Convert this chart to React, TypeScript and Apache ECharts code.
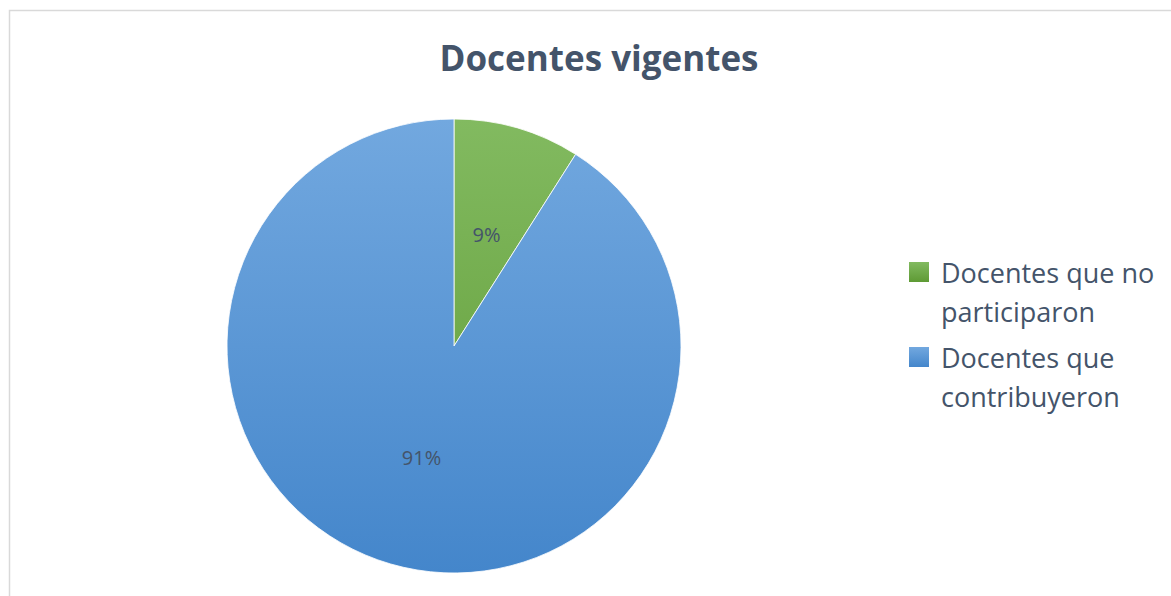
import React, { useEffect, useRef } from "react";
import * as echarts from "echarts";

const title = "Docentes vigentes";
const categories = ["Docentes que no participaron", "Docentes que contribuyeron"];
const values = [9, 91];
const topColors = ["#82ba60", "#72a8df"];
const bottomColors = ["#5e9a34", "#4486cb"];

const FONT = "'Open Sans', 'Noto Sans', sans-serif";
const TEXT = "#44546a";

export default function App() {
  const ref = useRef<HTMLDivElement>(null);
  useEffect(() => {
    document.body.style.margin = "0";
    const chart = echarts.init(ref.current!, null, { renderer: "svg" });
    const cx = 454, cy = 346, r = 227;
    const legendGraphics: any[] = [];
    categories.forEach((name, i) => {
      const y0 = 262 + i * 85;
      legendGraphics.push({
        type: "rect",
        shape: { x: 909, y: y0, width: 20, height: 20 },
        style: {
          fill: new echarts.graphic.LinearGradient(0, 0, 0, 1, [
            { offset: 0, color: topColors[i] },
            { offset: 1, color: bottomColors[i] },
          ]),
        },
      });
      legendGraphics.push({
        type: "text",
        x: 941,
        y: y0 - 9,
        style: {
          text: name,
          width: 228,
          overflow: "break",
          font: `27px ${FONT}`,
          fill: TEXT,
          lineHeight: 39,
        },
      });
    });
    chart.setOption({
      animation: false,
      backgroundColor: "#ffffff",
      title: {
        text: title,
        left: 594,
        top: 35,
        textAlign: "center",
        textStyle: { fontFamily: FONT, fontSize: 35, fontWeight: "bold", color: TEXT },
      },
      graphic: [
        {
          type: "rect",
          shape: { x: 9.5, y: 10.5, width: 1300, height: 700 },
          style: { fill: "none", stroke: "#d9d9d9", lineWidth: 1.5 },
          z: -1,
        },
        ...legendGraphics,
      ],
      series: [
        {
          type: "pie",
          center: [cx, cy],
          radius: r,
          startAngle: 90,
          clockwise: true,
          label: {
            position: "inside",
            formatter: (p: any) => Math.round(p.percent) + "%",
            fontFamily: FONT,
            fontSize: 20,
            color: TEXT,
          },
          labelLine: { show: false },
          emphasis: { disabled: true },
          data: categories.map((name, i) => ({
            name,
            value: values[i],
            itemStyle: {
              color: {
                type: "linear",
                x: 0,
                y: cy - r,
                x2: 0,
                y2: cy + r,
                global: true,
                colorStops: [
                  { offset: 0, color: topColors[i] },
                  { offset: 1, color: bottomColors[i] },
                ],
              },
              borderColor: "#ffffff",
              borderWidth: 0.8,
            },
          })),
        },
      ],
    });
    return () => chart.dispose();
  }, []);
  return <div ref={ref} style={{ width: 1171, height: 596 }} />;
}
